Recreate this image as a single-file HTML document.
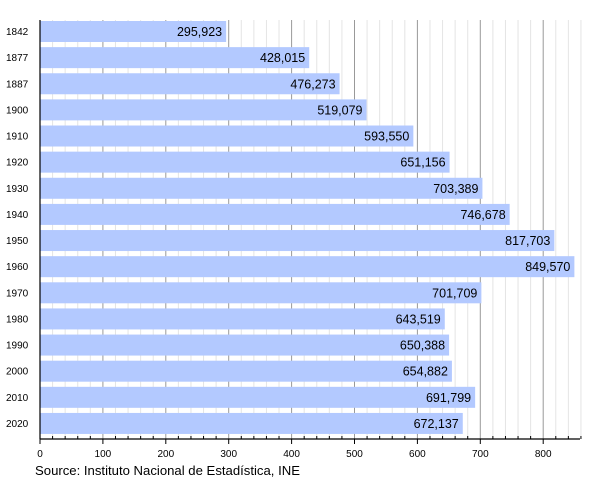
<!DOCTYPE html>
<html><head><meta charset="utf-8"><style>body{margin:0;background:#fff}svg{display:block}text{font-family:"Liberation Sans",sans-serif}</style></head><body>
<svg width="600" height="480" viewBox="0 0 600 480">
<g id="grid"></g>
<g id="bars"></g>
<line x1="40" y1="439" x2="580" y2="439" stroke="#000" stroke-width="1.2"/>
<line x1="40" y1="20" x2="40" y2="439" stroke="#000" stroke-width="1.2"/>
<g id="ticks"></g>
<text x="35" y="475" font-size="13" textLength="265" lengthAdjust="spacingAndGlyphs">Source: Instituto Nacional de Estadística, INE</text>
</svg>
<script>
var s=0.629,x0=40,ns="http://www.w3.org/2000/svg";
function el(p,t,a,txt){var e=document.createElementNS(ns,t);for(var k in a)e.setAttribute(k,a[k]);if(txt)e.textContent=txt;document.getElementById(p).appendChild(e);}
for(var v=20;v<=860;v+=20){var x=x0+v*s;var maj=v%100==0;
el('grid','line',{x1:x,y1:20,x2:x,y2:439,stroke:maj?'#999':'#e4e4e4','stroke-width':1});
el('ticks','line',{x1:x,y1:maj?439:436,x2:x,y2:maj?444:439,stroke:'#000','stroke-width':1});}
el('ticks','line',{x1:40,y1:439,x2:40,y2:444,stroke:'#000'});
for(var v=0;v<=800;v+=100)el('ticks','text',{x:x0+v*s,y:457,'font-size':10,'text-anchor':'middle'},''+v);
var d=[[1842,295923],[1877,428015],[1887,476273],[1900,519079],[1910,593550],[1920,651156],[1930,703389],[1940,746678],[1950,817703],[1960,849570],[1970,701709],[1980,643519],[1990,650388],[2000,654882],[2010,691799],[2020,672137]];
d.forEach(function(r,i){var y=21+i*26.13,w=r[1]/1000*s;
el('bars','rect',{x:40,y:y,width:w,height:21,fill:'#b3c9ff'});
el('bars','text',{x:40+w-4,y:y+15,'font-size':12.5,'text-anchor':'end'},r[1].toLocaleString('en-US'));
el('bars','text',{x:6,y:y+14,'font-size':10},''+r[0]);});
</script>
</body></html>
